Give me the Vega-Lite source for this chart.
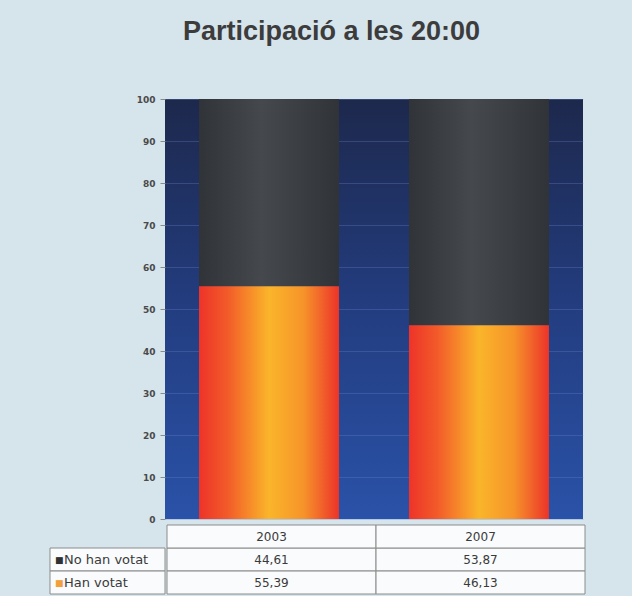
{
  "$schema": "https://vega.github.io/schema/vega-lite/v6.json",
  "background": "#d6e4ec",
  "padding": {"left": 49, "top": 18, "right": 47, "bottom": 2},
  "title": {"text": "Participació  a les 20:00", "fontSize": 27, "font": "Liberation Sans", "fontWeight": "bold", "color": "#3c3c3c", "anchor": "middle", "dx": 14, "offset": 49},
  "config": {
    "locale": {"number": {"decimal": ",", "thousands": ".", "grouping": [3], "currency": ["", " €"]}},
    "view": {"stroke": null},
    "text": {"font": "DejaVu Sans"}
  },
  "datasets": {
    "votes": [
      {"year": "2003", "cat": "No han votat", "value": 44.61},
      {"year": "2003", "cat": "Han votat", "value": 55.39},
      {"year": "2007", "cat": "No han votat", "value": 53.87},
      {"year": "2007", "cat": "Han votat", "value": 46.13}
    ]
  },
  "data": {"name": "votes"},
  "spacing": 0,
  "vconcat": [
    {
      "spacing": -30,
      "hconcat": [
        {
          "width": 115,
          "height": 420,
          "data": {"values": []},
          "mark": {"type": "point", "opacity": 0}
        },
        {
          "width": 418,
          "height": 420,
          "view": {
            "stroke": null,
            "fill": {"gradient": "linear", "x1": 0, "y1": 0, "x2": 0, "y2": 1, "stops": [{"offset": 0, "color": "#1d284c"}, {"offset": 0.5, "color": "#233d80"}, {"offset": 1, "color": "#2a52a8"}]}
          },
          "mark": {"type": "bar"},
          "encoding": {
            "x": {"field": "year", "type": "nominal", "scale": {"domain": ["2003", "2007"], "paddingInner": 0.333, "paddingOuter": 0.162}, "axis": null},
            "y": {"field": "value", "type": "quantitative", "stack": "zero", "scale": {"domain": [0, 100], "nice": false},
              "axis": {"values": [0, 10, 20, 30, 40, 50, 60, 70, 80, 90, 100], "domain": false, "tickSize": 5, "tickColor": "#8a8a8a", "labelFontSize": 9, "labelFont": "DejaVu Sans", "labelFontWeight": "bold", "labelColor": "#4a4a4a", "labelPadding": 5, "minExtent": 30, "maxExtent": 30, "title": null, "grid": true, "gridColor": "#6a88cc", "gridOpacity": 0.3}},
            "detail": {"field": "cat"},
            "order": {"field": "cat", "sort": "ascending"},
            "fill": {
              "condition": {"test": "datum.cat === 'Han votat'", "value": {"gradient": "linear", "x1": 0, "y1": 0, "x2": 1, "y2": 0, "stops": [{"offset": 0, "color": "#ee3329"}, {"offset": 0.2, "color": "#f25a29"}, {"offset": 0.5, "color": "#fab52a"}, {"offset": 0.75, "color": "#f6932a"}, {"offset": 1, "color": "#ec3329"}]}},
              "value": {"gradient": "linear", "x1": 0, "y1": 0, "x2": 1, "y2": 0, "stops": [{"offset": 0, "color": "#303337"}, {"offset": 0.45, "color": "#45494d"}, {"offset": 1, "color": "#303337"}]}
            }
          }
        }
      ]
    },
    {
      "spacing": 0,
      "hconcat": [
        {
          "width": 115,
          "height": 69,
          "transform": [{"filter": "datum.year === '2003'"}],
          "encoding": {
            "y": {"field": "cat", "type": "nominal", "scale": {"domain": ["hdr", "No han votat", "Han votat"], "paddingInner": 0, "paddingOuter": 0}, "axis": null},
            "x": {"datum": "lbl", "type": "nominal", "scale": {"paddingInner": 0, "paddingOuter": 0}, "axis": null, "bandPosition": 0}
          },
          "layer": [
            {"mark": {"type": "rect", "fill": "#ffffff", "fillOpacity": 0.85, "stroke": "#8c8c8c", "strokeWidth": 1}},
            {"mark": {"type": "text", "text": "■", "align": "left", "dx": 5, "fontSize": 9},
              "encoding": {"color": {"field": "cat", "type": "nominal", "scale": {"domain": ["No han votat", "Han votat"], "range": ["#2e3034", "#f2a03c"]}, "legend": null}}},
            {"mark": {"type": "text", "align": "left", "dx": 14, "fontSize": 13, "color": "#3a3a3a"},
              "encoding": {"text": {"field": "cat"}}}
          ]
        },
        {
          "width": 418,
          "height": 69,
          "encoding": {
            "x": {"field": "year", "type": "nominal", "scale": {"domain": ["2003", "2007"], "paddingInner": 0, "paddingOuter": 0}, "axis": null}
          },
          "layer": [
            {"mark": {"type": "rect", "fill": "#ffffff", "fillOpacity": 0.85, "stroke": "#8c8c8c", "strokeWidth": 1},
              "encoding": {"y": {"field": "cat", "type": "nominal", "scale": {"domain": ["hdr", "No han votat", "Han votat"], "paddingInner": 0, "paddingOuter": 0}, "axis": null}}},
            {"transform": [{"filter": "datum.cat === 'Han votat'"}],
              "mark": {"type": "rect", "fill": "#ffffff", "fillOpacity": 0.85, "stroke": "#8c8c8c", "strokeWidth": 1},
              "encoding": {"y": {"datum": "hdr", "type": "nominal"}}},
            {"mark": {"type": "text", "fontSize": 12, "color": "#3a3a3a"},
              "encoding": {"y": {"field": "cat", "type": "nominal"}, "text": {"field": "value", "type": "quantitative", "format": ".2f"}}},
            {"transform": [{"filter": "datum.cat === 'Han votat'"}],
              "mark": {"type": "text", "fontSize": 12, "color": "#3a3a3a"},
              "encoding": {"y": {"datum": "hdr", "type": "nominal"}, "text": {"field": "year"}}}
          ]
        }
      ]
    }
  ]
}
